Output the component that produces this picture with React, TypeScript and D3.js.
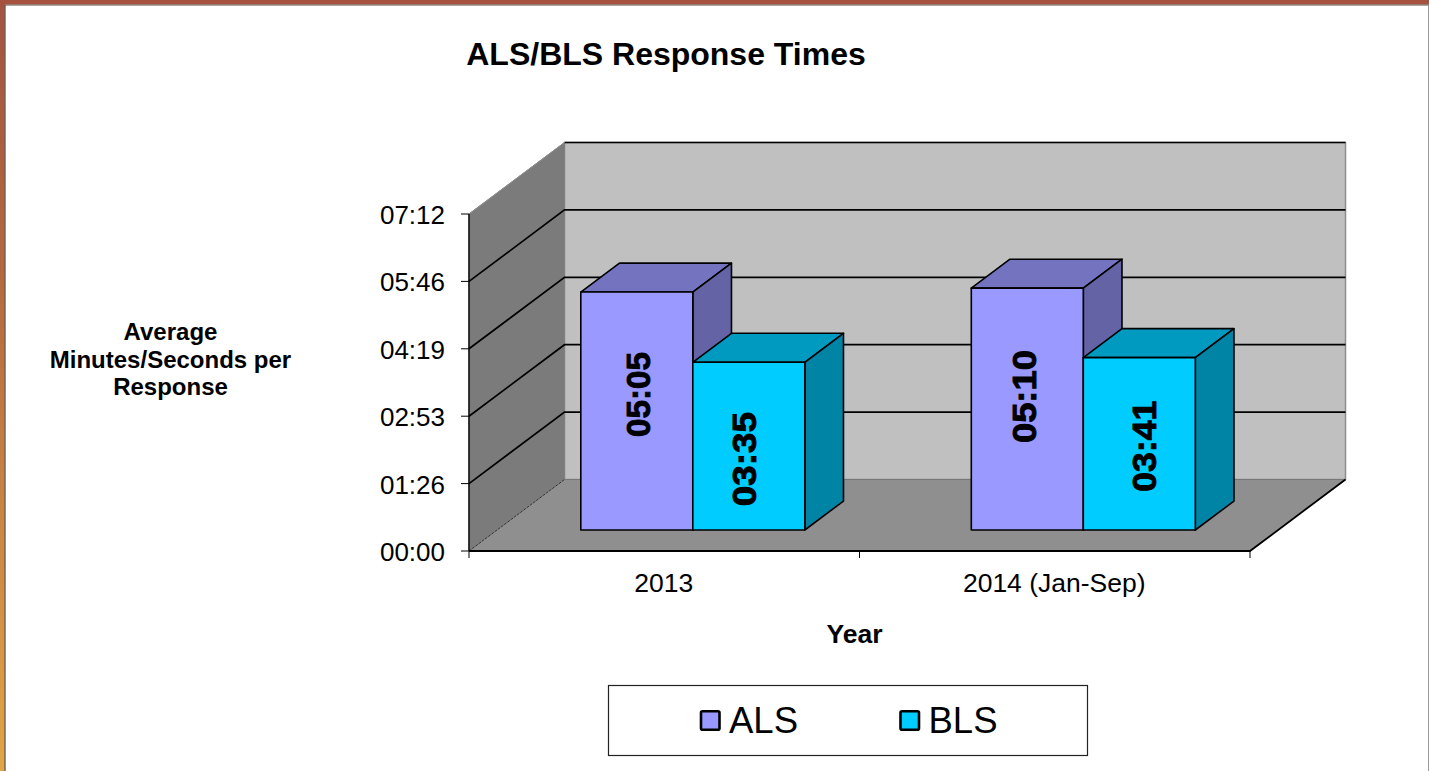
import React from "react";
import * as d3 from "d3";

const title = "ALS/BLS Response Times";
const categories = ["2013", "2014 (Jan-Sep)"];
const seriesNames = ["ALS", "BLS"];
const alsSeconds = [305, 310];
const blsSeconds = [215, 221];
const alsLabels = ["05:05", "05:10"];
const blsLabels = ["03:35", "03:41"];
const tickSeconds = [0, 86.4, 172.8, 259.2, 345.6, 432];
const tickLabels = ["00:00", "01:26", "02:53", "04:19", "05:46", "07:12"];
const colors = {
  ALS: { front: "#9999ff", top: "#7373bf", side: "#6363a5" },
  BLS: { front: "#00ccff", top: "#0099bf", side: "#0084a5" },
};

const W = 1429, H = 771;
const FONT = "'Liberation Sans', Arial, sans-serif";
const y = d3.scaleLinear().domain([0, 432]).range([551, 214]);
const x = d3.scaleBand().domain(categories).range([469, 1250]);
const DX = 95.5, DY = -71.5;
const BAR_W = 112;
const Z0 = 21 / 71.5, BAR_DEPTH = 0.405;
const line = d3.line();

function Box({ x0, v, c, label, ox, oy, len }: any) {
  const bx = x0 + DX * Z0;
  const base = y(0) + DY * Z0;
  const h = y(0) - y(v);
  const top = base - h;
  const dx = DX * BAR_DEPTH, dy = DY * BAR_DEPTH;
  const xr = bx + BAR_W;
  const stroke = { stroke: "#000", strokeWidth: 1.6, strokeLinejoin: "round" as const };
  return (
    <g>
      <path d={line([[bx, top], [xr, top], [xr + dx, top + dy], [bx + dx, top + dy]]) + "Z"} fill={c.top} {...stroke} />
      <path d={line([[xr, top], [xr + dx, top + dy], [xr + dx, base + dy], [xr, base]]) + "Z"} fill={c.side} {...stroke} />
      <rect x={bx} y={top} width={BAR_W} height={h} fill={c.front} {...stroke} />
      <text
        transform={`translate(${bx + BAR_W / 2 + ox},${top + h / 2 + oy}) rotate(-90)`}
        textAnchor="middle" dominantBaseline="central"
        textLength={len} lengthAdjust="spacingAndGlyphs"
        stroke="#000" strokeWidth={0.9}
        fontFamily={FONT} fontWeight="bold" fontSize={33}>{label}</text>
    </g>
  );
}

export default function App() {
  const x0 = x.range()[0], x1 = x.range()[1];
  const y0 = y(0), yT = y(432);
  const alsNudge = [[2, -16.5, 85], [-3, -12.5, 93]];
  const blsNudge = [[-4.5, 13, 94], [5, 2.5, 91]];
  return (
    <svg width={W} height={H} style={{ position: "fixed", left: 0, top: 0, display: "block" }}>
      <defs>
        <linearGradient id="frame" x1="0" y1="0" x2="0" y2="1">
          <stop offset="0" stopColor="#a5523f" />
          <stop offset="0.35" stopColor="#b5683f" />
          <stop offset="1" stopColor="#e2a544" />
        </linearGradient>
      </defs>
      <rect width={W} height={H} fill="#fff" />
      <rect x={0} y={0} width={5} height={H} fill="url(#frame)" />
      <rect x={0} y={0} width={W} height={4.5} fill="#a5523f" />
      <line x1={5} x2={5} y1={5} y2={H} stroke="#6b6258" strokeWidth={1.4} />
      <line x1={5} x2={W} y1={5} y2={5} stroke="#5f4a42" strokeWidth={1.2} />
      <line x1={1428.5} x2={1428.5} y1={5} y2={H} stroke="#999" strokeWidth={1} />

      <text x={666} y={65} textAnchor="middle" fontFamily={FONT} fontWeight="bold" fontSize={32}>{title}</text>

      {/* back wall */}
      <rect x={x0 + DX} y={yT + DY} width={x1 - x0} height={y0 - yT} fill="#c0c0c0" stroke="#8c8c8c" strokeWidth={1.5} />
      {/* side wall */}
      <path d={line([[x0, y0], [x0, yT], [x0 + DX, yT + DY], [x0 + DX, y0 + DY]]) + "Z"} fill="#7b7b7b" stroke="#808080" strokeWidth={1} />
      {/* floor */}
      <path d={line([[x0, y0], [x1, y0], [x1 + DX, y0 + DY], [x0 + DX, y0 + DY]]) + "Z"} fill="#8f8f8f" />
      <line x1={x0} y1={y0} x2={x0 + DX} y2={y0 + DY} stroke="#333" strokeWidth={1} strokeDasharray="3 1" />

      {/* gridlines */}
      {tickSeconds.slice(1).map((t, i) => (
        <path key={i} fill="none" stroke="#000" strokeWidth={1.7}
          d={line(i === 4
            ? [[x0 + DX, y(t) + DY], [x1 + DX, y(t) + DY]]
            : [[x0, y(t)], [x0 + DX, y(t) + DY], [x1 + DX, y(t) + DY]]) as string} />
      ))}
      <line x1={x0} y1={yT} x2={x0 + DX} y2={yT + DY} stroke="#8c8c8c" strokeWidth={1} />
      <line x1={x0 + DX} y1={y(0) + DY} x2={x1 + DX} y2={y(0) + DY} stroke="#777" strokeWidth={1} />

      {/* axes */}
      <line x1={x0} x2={x0} y1={yT} y2={y0} stroke="#000" strokeWidth={1.4} />
      <path d={line([[x0, y0], [x1, y0], [x1 + DX, y0 + DY]]) as string} fill="none" stroke="#000" strokeWidth={1.8} />
      {tickSeconds.map((t, i) => (
        <g key={i}>
          <line x1={x0 - 8} x2={x0} y1={y(t)} y2={y(t)} stroke="#000" strokeWidth={1} />
          <text x={445} y={y(t)} textAnchor="end" dominantBaseline="central" dy={1} fontFamily={FONT} fontSize={26}>{tickLabels[i]}</text>
        </g>
      ))}
      {[x0, x(categories[1]) as number, x1].map((p, i) => (
        <line key={i} x1={p} x2={p} y1={y0} y2={y0 + 7} stroke="#000" strokeWidth={1} />
      ))}
      {categories.map((c) => (
        <text key={c} x={(x(c) as number) + x.bandwidth() / 2 - 0.5} y={592} textAnchor="middle" fontFamily={FONT} fontSize={26.5}>{c}</text>
      ))}

      {/* bars */}
      {categories.map((c, i) => {
        const gap = (x.bandwidth() - 2 * BAR_W) / 2;
        const xa = (x(c) as number) + gap + 0.5;
        const [ax, ay, al] = alsNudge[i];
        const [bxn, byn, bl] = blsNudge[i];
        return (
          <g key={c}>
            <Box x0={xa} v={alsSeconds[i]} c={colors.ALS} label={alsLabels[i]} ox={ax} oy={ay} len={al} />
            <Box x0={xa + BAR_W} v={blsSeconds[i]} c={colors.BLS} label={blsLabels[i]} ox={bxn} oy={byn} len={bl} />
          </g>
        );
      })}

      {/* axis titles */}
      {["Average", "Minutes/Seconds per", "Response"].map((s, i) => (
        <text key={s} x={170.5} y={340 + i * 27.5} textAnchor="middle" fontFamily={FONT} fontWeight="bold" fontSize={24}>{s}</text>
      ))}
      <text x={854.5} y={643} textAnchor="middle" fontFamily={FONT} fontWeight="bold" fontSize={26.5}>Year</text>

      {/* legend */}
      <rect x={608.5} y={685.5} width={479} height={70} fill="#fff" stroke="#222" strokeWidth={1.2} />
      {seriesNames.map((s, i) => {
        const lx = i === 0 ? 701 : 900.5;
        const c = i === 0 ? colors.ALS : colors.BLS;
        return (
          <g key={s}>
            <rect x={lx} y={711.3} width={18.5} height={18.5} rx={1.5} fill={c.front} stroke="#000" strokeWidth={2.6} />
            <text x={lx + 28} y={733} fontFamily={FONT} fontSize={36.5}>{s}</text>
          </g>
        );
      })}
    </svg>
  );
}
